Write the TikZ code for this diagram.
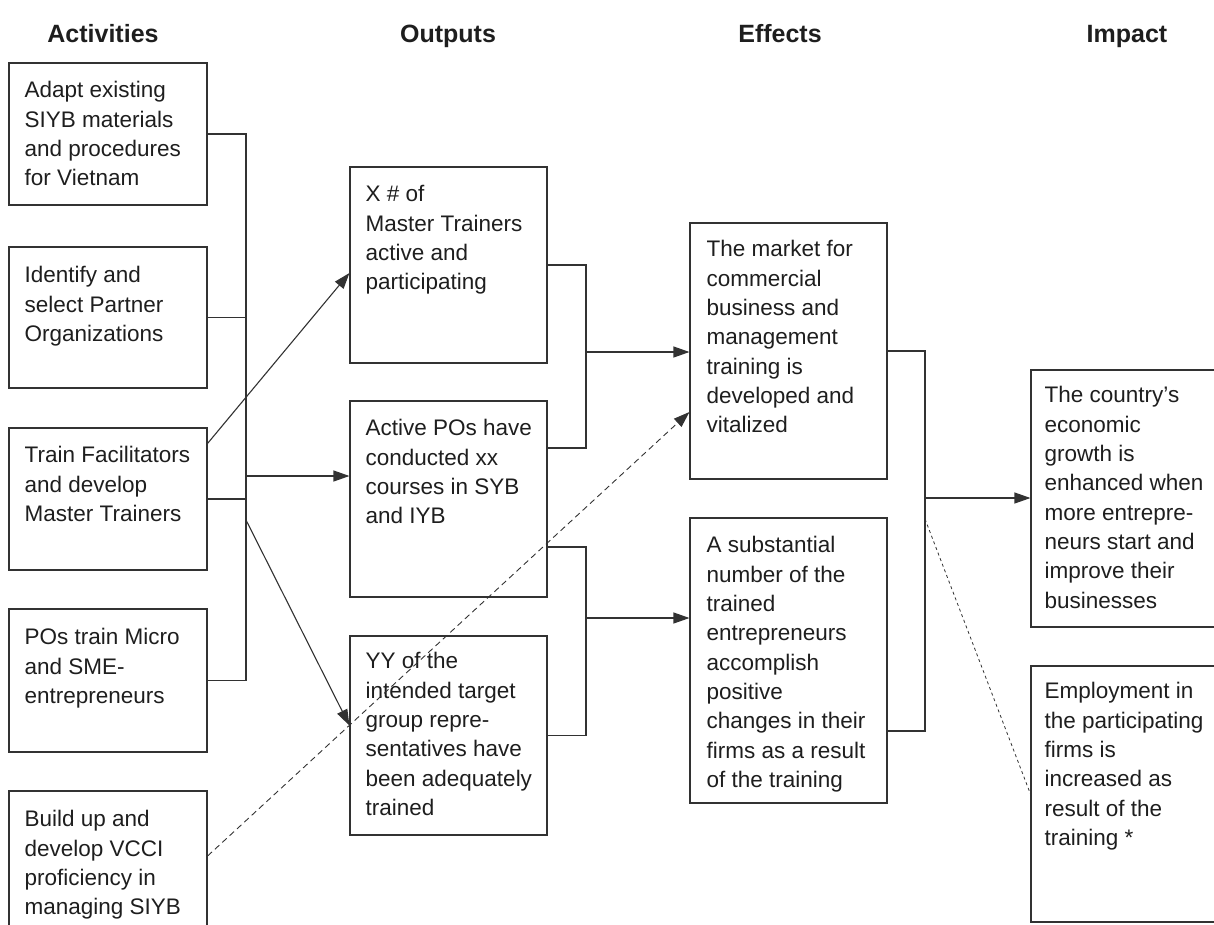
\documentclass[tikz,border=0pt]{standalone}
\usepackage{fontspec}
\setmainfont{Liberation Sans}
\usetikzlibrary{arrows.meta}
\definecolor{boxline}{RGB}{50,50,50}
\definecolor{inktext}{RGB}{30,30,30}

\begin{document}
\begin{tikzpicture}[x=1pt, y=-1pt,
    box/.style={rectangle, draw=boxline, line width=1.1pt, inner sep=0pt},
    boxtext/.style={anchor=north west, align=left, inner sep=0pt, text=inktext, font=\fontsize{22.5}{29.3}\selectfont},
    heading/.style={anchor=base, inner sep=0pt, text=inktext, font=\bfseries\fontsize{25}{29}\selectfont},
    link/.style={draw=boxline, line width=1.1pt},
    arrow/.style={link, -{Triangle[length=16pt,width=11pt]}},
    dashlink/.style={arrow, line width=0.9pt, dash pattern=on 6pt off 4pt},
    dotlink/.style={link, line width=0.8pt, dash pattern=on 3pt off 3pt}]
    \useasboundingbox (0,0) rectangle (1214,924);

    % Column headings
    \node[heading] (hact) at (103,42) {Activities};
    \node[heading] (hout) at (448,42) {Outputs};
    \node[heading] (heff) at (780,42) {Effects};
    \node[heading] (himp) at (1127,42) {Impact};

    % Activities column
    \node[box, minimum width=198pt, minimum height=142pt] (act1) at (108,134) {};
    \node[box, minimum width=198pt, minimum height=141pt] (act2) at (108,317.5) {};
    \node[box, minimum width=198pt, minimum height=142pt] (act3) at (108,499) {};
    \node[box, minimum width=198pt, minimum height=143pt] (act4) at (108,680.5) {};
    \node[box, minimum width=198pt, minimum height=140pt] (act5) at (108,861) {};
    \node[boxtext] (act1 text) at ([shift={(16pt,-19pt)}]act1.north west) {Adapt existing\\SIYB materials\\and procedures\\for Vietnam};
    \node[boxtext] (act2 text) at ([shift={(16pt,-20pt)}]act2.north west) {Identify and\\select Partner\\Organizations};
    \node[boxtext] (act3 text) at ([shift={(16pt,-19pt)}]act3.north west) {Train Facilitators\\and develop\\Master Trainers};
    \node[boxtext] (act4 text) at ([shift={(16pt,-20pt)}]act4.north west) {POs train Micro\\and SME-\\entrepreneurs};
    \node[boxtext] (act5 text) at ([shift={(16pt,-20pt)}]act5.north west) {Build up and\\develop VCCI\\proficiency in\\managing SIYB};

    % Outputs column
    \node[box, minimum width=197pt, minimum height=196pt] (out1) at (448.5,265) {};
    \node[box, minimum width=197pt, minimum height=196pt] (out2) at (448.5,499) {};
    \node[box, minimum width=197pt, minimum height=199pt] (out3) at (448.5,735.5) {};
    \node[boxtext] (out1 text) at ([shift={(16pt,-19pt)}]out1.north west) {X \# of\\Master Trainers\\active and\\participating};
    \node[boxtext] (out2 text) at ([shift={(16pt,-19pt)}]out2.north west) {Active POs have\\conducted xx\\courses in SYB\\and IYB};
    \node[boxtext] (out3 text) at ([shift={(16pt,-17pt)}]out3.north west) {YY of the\\intended target\\group repre-\\sentatives have\\been adequately\\trained};

    % Effects column
    \node[box, minimum width=197pt, minimum height=256pt] (eff1) at (788.5,351) {};
    \node[box, minimum width=197pt, minimum height=285pt] (eff2) at (788.5,660.5) {};
    \node[boxtext] (eff1 text) at ([shift={(17pt,-18pt)}]eff1.north west) {The market for\\commercial\\business and\\management\\training is\\developed and\\vitalized};
    \node[boxtext] (eff2 text) at ([shift={(17pt,-19pt)}]eff2.north west) {A substantial\\number of the\\trained\\entrepreneurs\\accomplish\\positive\\changes in their\\firms as a result\\of the training};

    % Impact column (cut by the right edge)
    \node[box, minimum width=200pt, minimum height=257pt] (imp1) at (1131,498.5) {};
    \node[box, minimum width=200pt, minimum height=256pt] (imp2) at (1131,794) {};
    \node[boxtext] (imp1 text) at ([shift={(14pt,-17pt)}]imp1.north west) {The country’s\\economic\\growth is\\enhanced when\\more entrepre-\\neurs start and\\improve their\\businesses};
    \node[boxtext] (imp2 text) at ([shift={(14pt,-17pt)}]imp2.north west) {Employment in\\the participating\\firms is\\increased as\\result of the\\training *};

    % Junctions of the brackets
    \coordinate (abus) at (246,476);
    \coordinate (abus2) at (246,520);
    \coordinate (obus1) at (586,352);
    \coordinate (obus2) at (586,618);
    \coordinate (ebus) at (925,498);
    \coordinate (ebus2) at (925,519);

    % Activities bracket
    \draw[link] (act1.east) -| (abus);
    \draw[link] (act4.east) -| (abus);
    \draw[link] (act2.east) -- (act2.east -| abus);
    \draw[link] (act3.east) -- (act3.east -| abus);
    \draw[arrow] (abus) -- (abus -| out2.west);
    \draw[arrow] ([yshift=-16pt]act3.north east) -- ([yshift=-8pt]out1.west);
    \draw[arrow] (abus2) -- ([yshift=10pt]out3.west);
    \draw[dashlink] ([yshift=5pt]act5.east) -- ([yshift=-61pt]eff1.west);

    % Outputs brackets
    \draw[link] (out1.east) -| (obus1);
    \draw[link] ([yshift=51pt]out2.east) -| (obus1);
    \draw[arrow] (obus1) -- (obus1 -| eff1.west);
    \draw[link] ([yshift=-48pt]out2.east) -| (obus2);
    \draw[link] (out3.east) -| (obus2);
    \draw[arrow] (obus2) -- (obus2 -| eff2.west);

    % Effects bracket
    \draw[link] (eff1.east) -| (ebus);
    \draw[link] ([yshift=-70.5pt]eff2.east) -| (ebus);
    \draw[arrow] (ebus) -- (ebus -| imp1.west);
    \draw[dotlink] (ebus2) -- (imp2.west);
\end{tikzpicture}
\end{document}
